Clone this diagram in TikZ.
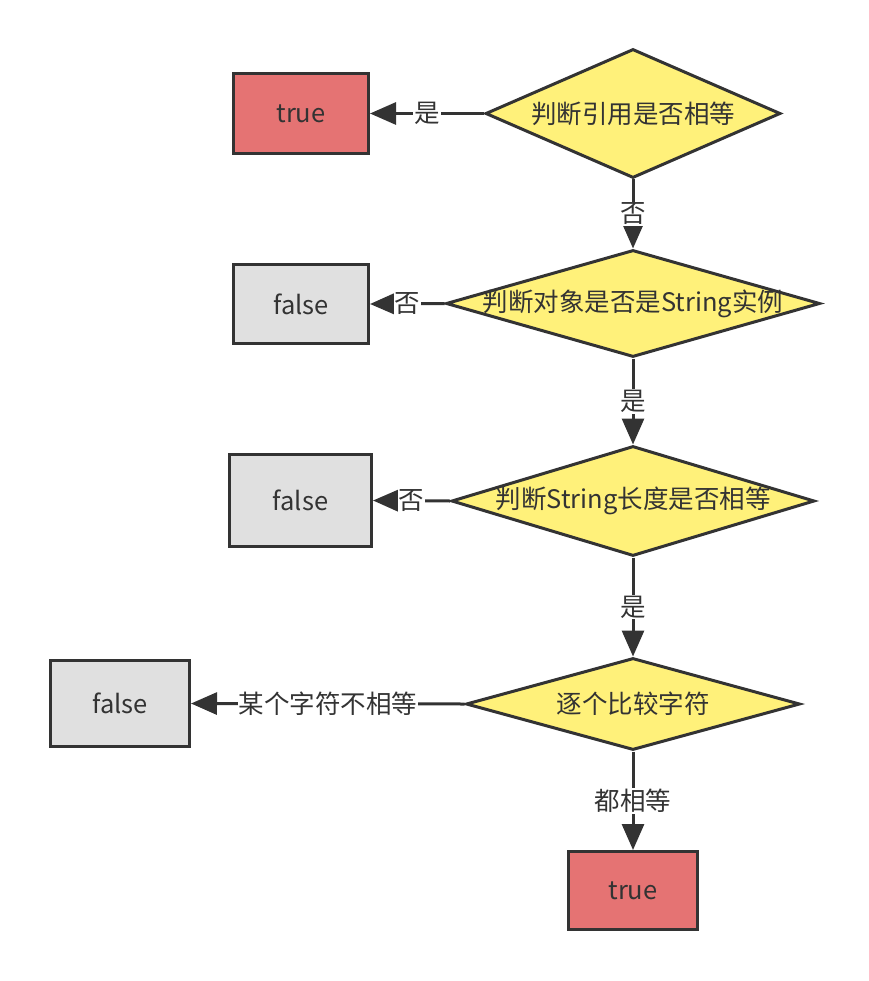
\documentclass[tikz,border=0pt]{standalone}
\usepackage{fontspec}
\setmainfont{Noto Sans CJK SC}
\usetikzlibrary{shapes.geometric,arrows.meta}
\definecolor{ink}{HTML}{333333}
\definecolor{truefill}{HTML}{E57373}
\definecolor{falsefill}{HTML}{E0E0E0}
\definecolor{askfill}{HTML}{FFF17A}
\begin{document}
\begin{tikzpicture}[x=1pt,y=-1pt,
  txt/.style={text=ink,font=\fontsize{25.5}{30}\selectfont},
  box/.style={txt,draw=ink,line width=3pt,rectangle,inner sep=0pt},
  yes/.style={box,fill=truefill},
  no/.style={box,fill=falsefill},
  decision/.style={draw=ink,fill=askfill,diamond,line width=3pt,inner sep=0pt},
  flow/.style={draw=ink,line width=3pt,-{Triangle[length=26pt,width=22pt]}},
  lbl/.style={txt,fill=white,inner sep=1pt}]
\useasboundingbox (0,0) rectangle (868,981);

% result boxes
\node[yes,minimum width=135pt,minimum height=80pt] (t1) at (301,113.5) {true};
\node[no,minimum width=135pt,minimum height=79pt] (f2) at (301,304) {false};
\node[no,minimum width=142pt,minimum height=92pt] (f3) at (300.5,500.5) {false};
\node[no,minimum width=139pt,minimum height=86pt] (f4) at (120,703.5) {false};
\node[yes,minimum width=129pt,minimum height=78pt] (t5) at (633,890.5) {true};

% decisions
\node[decision,minimum width=295pt,minimum height=129pt] (d1) at (633,113.5) {};
\node[decision,minimum width=374pt,minimum height=107pt] (d2) at (633,303.5) {};
\node[decision,minimum width=363pt,minimum height=110pt] (d3) at (633,501) {};
\node[decision,minimum width=334pt,minimum height=92pt] (d4) at (633,704) {};

\node[txt] (q1) at (d1.center) {判断引用是否相等};
\node[txt] (q2) at (d2.center) {判断对象是否是String实例};
\node[txt] (q3) at (d3.center) {判断String长度是否相等};
\node[txt] (q4) at (d4.center) {逐个比较字符};

% connectors
\draw[flow] (d1.west) -- node[lbl] (l1) {是} (t1.east);
\draw[flow] (d1.south) -- node[lbl] (l2) {否} (d2.north);
\draw[flow] (d2.west) -- node[lbl] (l3) {否} (f2.east);
\draw[flow] (d2.south) -- node[lbl] (l4) {是} (d3.north);
\draw[flow] (d3.west) -- node[lbl] (l5) {否} (f3.east);
\draw[flow] (d3.south) -- node[lbl] (l6) {是} (d4.north);
\draw[flow] (d4.west) -- node[lbl] (l7) {某个字符不相等} (f4.east);
\draw[flow] (d4.south) -- node[lbl] (l8) {都相等} (t5.north);
\end{tikzpicture}
\end{document}
